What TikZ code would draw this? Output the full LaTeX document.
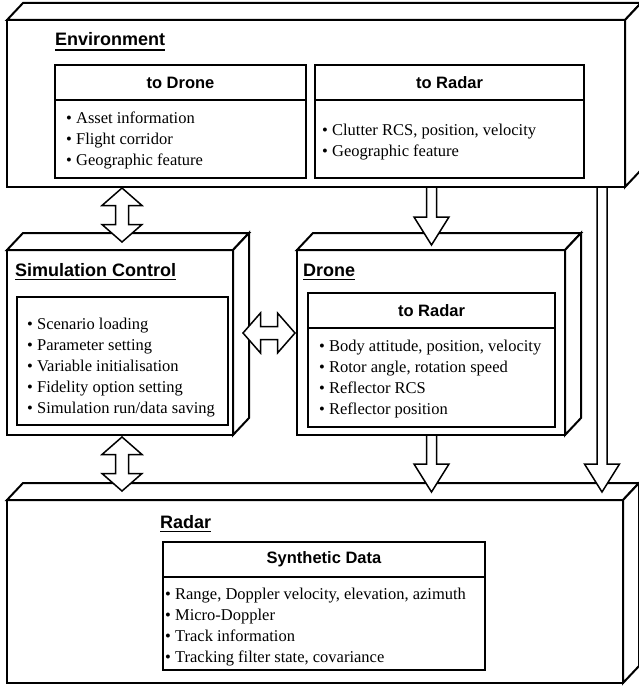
\documentclass[tikz,border=0pt]{standalone}
\usepackage{fontspec}
\setmainfont{Liberation Serif}
\setsansfont{Liberation Sans}
\usetikzlibrary{calc}
\tikzset{
  cubefront/.style={draw, line width=2pt, fill=white, inner sep=0pt, outer sep=0pt, anchor=north west},
  cubeface/.style={draw, line width=2pt, fill=white, line join=miter},
  innerbox/.style={draw, line width=1.6pt, fill=white, inner sep=0pt, outer sep=0pt, anchor=north west},
  divline/.style={line width=1.6pt},
  heading/.style={font=\sffamily\bfseries\fontsize{18}{21}\selectfont, inner sep=0pt, anchor=base west},
  uline/.style={line width=1.8pt},
  subhead/.style={font=\sffamily\bfseries\fontsize{16.5}{20}\selectfont, inner sep=0pt},
  itemlist/.style={font=\fontsize{16.5}{21}\selectfont, inner sep=0pt, anchor=west, align=left},
  arrowshape/.style={draw, line width=1.5pt, fill=white, line join=miter},
}
\newcommand\cubefaces[1]{%
  \path[cubeface] (#1.north west) -- ++(16,-17) -- ($(#1.north east)+(16,-17)$) -- (#1.north east) -- cycle;
  \path[cubeface] (#1.north east) -- ($(#1.north east)+(16,-17)$) -- ($(#1.south east)+(16,-17)$) -- (#1.south east) -- cycle;
}
% double vertical arrow: #1 top tip, #2 bottom tip
\newcommand\vdblarrow[2]{%
  \path[arrowshape] (#1) -- ($(#1)+(20,17.5)$) -- ($(#1)+(6.5,17.5)$) -- ($(#2)+(6.5,-17.5)$) -- ($(#2)+(20,-17.5)$) -- (#2)
   -- ($(#2)+(-20,-17.5)$) -- ($(#2)+(-6.5,-17.5)$) -- ($(#1)+(-6.5,17.5)$) -- ($(#1)+(-20,17.5)$) -- cycle;
}
% double horizontal arrow: #1 left tip, #2 right tip
\newcommand\hdblarrow[2]{%
  \path[arrowshape] (#1) -- ($(#1)+(17.5,-20)$) -- ($(#1)+(17.5,-6.5)$) -- ($(#2)+(-17.5,-6.5)$) -- ($(#2)+(-17.5,-20)$) -- (#2)
   -- ($(#2)+(-17.5,20)$) -- ($(#2)+(-17.5,6.5)$) -- ($(#1)+(17.5,6.5)$) -- ($(#1)+(17.5,20)$) -- cycle;
}
% single down arrow: #1 start (shaft top), #2 tip
\newcommand\sdownarrow[2]{%
  \path[arrowshape] ($(#1)+(-5,1)$) -- ($(#2)+(-5,-28)$) -- ($(#2)+(-17.5,-28)$) -- (#2) -- ($(#2)+(17.5,-28)$) -- ($(#2)+(5,-28)$) -- ($(#1)+(5,1)$);
}
\begin{document}
\begin{tikzpicture}[x=1pt, y=-1pt]
\useasboundingbox[fill=white] (0,0) rectangle (638,687);

% ---------- Environment ----------
\node[cubefront, minimum width=618pt, minimum height=167pt] (env) at (7,20) {};
\cubefaces{env}
\node[heading] (envT) at (55,46) {Environment};
\draw[uline] ($(envT.base west)+(0,4)$) -- ($(envT.base east)+(0,4)$);

\node[innerbox, minimum width=251pt, minimum height=113pt] (eDrone) at (55,65) {};
\draw[divline] ($(eDrone.north west)+(0,35)$) -- ($(eDrone.north east)+(0,35)$);
\node[subhead] (eDroneT) at ($(eDrone.north)+(0,17.5)$) {to Drone};
\node[itemlist] (eDroneL) at (66,140) {• Asset information\\• Flight corridor\\• Geographic feature};

\node[innerbox, minimum width=269pt, minimum height=113pt] (eRadar) at (315,65) {};
\draw[divline] ($(eRadar.north west)+(0,35)$) -- ($(eRadar.north east)+(0,35)$);
\node[subhead] (eRadarT) at ($(eRadar.north)+(0,17.5)$) {to Radar};
\node[itemlist] (eRadarL) at (322,142) {• Clutter RCS, position, velocity\\• Geographic feature};

% ---------- Simulation Control ----------
\node[cubefront, minimum width=226pt, minimum height=185pt] (sim) at (7,250) {};
\cubefaces{sim}
\node[heading] (simT) at (15,276) {Simulation Control};
\draw[uline] ($(simT.base west)+(0,3.5)$) -- ($(simT.base east)+(0,3.5)$);
\node[innerbox, minimum width=211pt, minimum height=128pt] (simIn) at (17,297) {};
\node[itemlist] (simL) at (27,367.5) {• Scenario loading\\• Parameter setting\\• Variable initialisation\\• Fidelity option setting\\• Simulation run/data saving};

% ---------- Drone ----------
\node[cubefront, minimum width=268pt, minimum height=185pt] (drone) at (297,250) {};
\cubefaces{drone}
\node[heading] (droneT) at (303,276) {Drone};
\draw[uline] ($(droneT.base west)+(0,3.5)$) -- ($(droneT.base east)+(0,3.5)$);
\node[innerbox, minimum width=247pt, minimum height=134pt] (dRadar) at (308,293) {};
\draw[divline] ($(dRadar.north west)+(0,35)$) -- ($(dRadar.north east)+(0,35)$);
\node[subhead] (dRadarT) at ($(dRadar.north)+(0,17.5)$) {to Radar};
\node[itemlist] (dRadarL) at (319,379) {• Body attitude, position, velocity\\• Rotor angle, rotation speed\\• Reflector RCS\\• Reflector position};

% ---------- Radar ----------
\node[cubefront, minimum width=616pt, minimum height=183pt] (radar) at (7,500) {};
\cubefaces{radar}
\node[heading] (radarT) at (160,528) {Radar};
\draw[uline] ($(radarT.base west)+(0,3.5)$) -- ($(radarT.base east)+(0,3.5)$);
\node[innerbox, minimum width=322pt, minimum height=128pt] (synth) at (163,542) {};
\draw[divline] ($(synth.north west)+(0,35)$) -- ($(synth.north east)+(0,35)$);
\node[subhead] (synthT) at ($(synth.north)+(0,17.5)$) {Synthetic Data};
\node[itemlist] (synthL) at (165,627.5) {• Range, Doppler velocity, elevation, azimuth\\• Micro-Doppler\\• Track information\\• Tracking filter state, covariance};

% ---------- Arrows ----------
\coordinate (cx1) at (122,0);
\coordinate (cx2) at (431.5,0);
\coordinate (cx3) at (602,0);
\coordinate (cy1) at (0,333);

\coordinate (a1t) at ($(env.south -| cx1)+(0,1)$);
\coordinate (a1b) at ($(sim.north -| cx1)+(0,-8)$);
\vdblarrow{a1t}{a1b}

\coordinate (a2t) at ($(sim.south -| cx1)+(0,2)$);
\coordinate (a2b) at ($(radar.north -| cx1)+(0,-9)$);
\vdblarrow{a2t}{a2b}

\coordinate (a3l) at ($(sim.east |- cy1)+(10,0)$);
\coordinate (a3r) at ($(drone.west |- cy1)+(-2,0)$);
\hdblarrow{a3l}{a3r}

\coordinate (a4s) at (env.south -| cx2);
\coordinate (a4e) at ($(drone.north -| cx2)+(0,-5)$);
\sdownarrow{a4s}{a4e}

\coordinate (a5s) at (drone.south -| cx2);
\coordinate (a5e) at ($(radar.north -| cx2)+(0,-8)$);
\sdownarrow{a5s}{a5e}

\coordinate (a6s) at (env.south -| cx3);
\coordinate (a6e) at ($(radar.north -| cx3)+(0,-8)$);
\sdownarrow{a6s}{a6e}
\end{tikzpicture}
\end{document}
